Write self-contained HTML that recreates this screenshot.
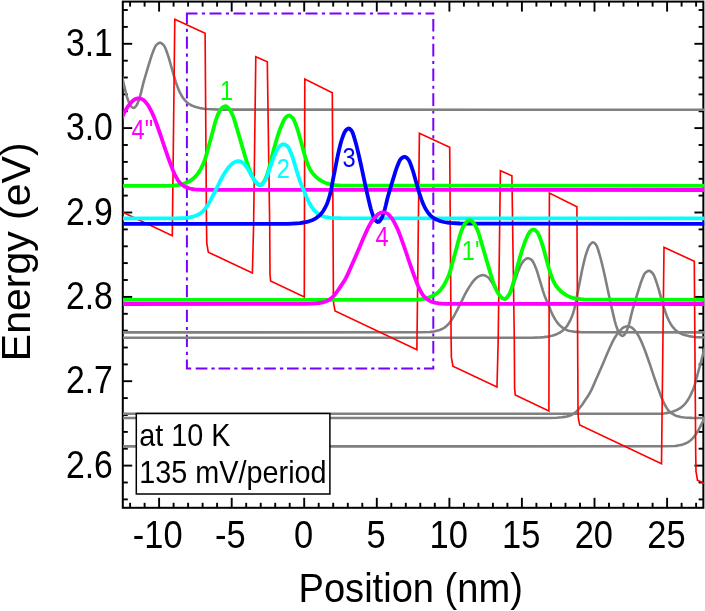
<!DOCTYPE html><html><head><meta charset="utf-8"><title>Band diagram</title><style>html,body{margin:0;padding:0;background:#fff}body{width:705px;height:611px;overflow:hidden}</style></head><body><svg width="705" height="611" viewBox="0 0 705 611" style="display:block;will-change:transform">
<rect width="705" height="611" fill="#fff"/>
<defs><clipPath id="c"><rect x="123.0" y="1.6" width="581.2500000000001" height="506.2"/></clipPath></defs>
<g stroke="#000" stroke-width="1.9" fill="none"><line x1="130.1" y1="1.6" x2="130.1" y2="6.6"/><line x1="130.1" y1="507.8" x2="130.1" y2="502.8"/><line x1="144.6" y1="1.6" x2="144.6" y2="6.6"/><line x1="144.6" y1="507.8" x2="144.6" y2="502.8"/><line x1="159.1" y1="1.6" x2="159.1" y2="11.6"/><line x1="159.1" y1="507.8" x2="159.1" y2="497.8"/><line x1="173.6" y1="1.6" x2="173.6" y2="6.6"/><line x1="173.6" y1="507.8" x2="173.6" y2="502.8"/><line x1="188.1" y1="1.6" x2="188.1" y2="6.6"/><line x1="188.1" y1="507.8" x2="188.1" y2="502.8"/><line x1="202.6" y1="1.6" x2="202.6" y2="6.6"/><line x1="202.6" y1="507.8" x2="202.6" y2="502.8"/><line x1="217.1" y1="1.6" x2="217.1" y2="6.6"/><line x1="217.1" y1="507.8" x2="217.1" y2="502.8"/><line x1="231.7" y1="1.6" x2="231.7" y2="11.6"/><line x1="231.7" y1="507.8" x2="231.7" y2="497.8"/><line x1="246.2" y1="1.6" x2="246.2" y2="6.6"/><line x1="246.2" y1="507.8" x2="246.2" y2="502.8"/><line x1="260.7" y1="1.6" x2="260.7" y2="6.6"/><line x1="260.7" y1="507.8" x2="260.7" y2="502.8"/><line x1="275.2" y1="1.6" x2="275.2" y2="6.6"/><line x1="275.2" y1="507.8" x2="275.2" y2="502.8"/><line x1="289.7" y1="1.6" x2="289.7" y2="6.6"/><line x1="289.7" y1="507.8" x2="289.7" y2="502.8"/><line x1="304.2" y1="1.6" x2="304.2" y2="11.6"/><line x1="304.2" y1="507.8" x2="304.2" y2="497.8"/><line x1="318.7" y1="1.6" x2="318.7" y2="6.6"/><line x1="318.7" y1="507.8" x2="318.7" y2="502.8"/><line x1="333.2" y1="1.6" x2="333.2" y2="6.6"/><line x1="333.2" y1="507.8" x2="333.2" y2="502.8"/><line x1="347.8" y1="1.6" x2="347.8" y2="6.6"/><line x1="347.8" y1="507.8" x2="347.8" y2="502.8"/><line x1="362.3" y1="1.6" x2="362.3" y2="6.6"/><line x1="362.3" y1="507.8" x2="362.3" y2="502.8"/><line x1="376.8" y1="1.6" x2="376.8" y2="11.6"/><line x1="376.8" y1="507.8" x2="376.8" y2="497.8"/><line x1="391.3" y1="1.6" x2="391.3" y2="6.6"/><line x1="391.3" y1="507.8" x2="391.3" y2="502.8"/><line x1="405.8" y1="1.6" x2="405.8" y2="6.6"/><line x1="405.8" y1="507.8" x2="405.8" y2="502.8"/><line x1="420.3" y1="1.6" x2="420.3" y2="6.6"/><line x1="420.3" y1="507.8" x2="420.3" y2="502.8"/><line x1="434.8" y1="1.6" x2="434.8" y2="6.6"/><line x1="434.8" y1="507.8" x2="434.8" y2="502.8"/><line x1="449.4" y1="1.6" x2="449.4" y2="11.6"/><line x1="449.4" y1="507.8" x2="449.4" y2="497.8"/><line x1="463.9" y1="1.6" x2="463.9" y2="6.6"/><line x1="463.9" y1="507.8" x2="463.9" y2="502.8"/><line x1="478.4" y1="1.6" x2="478.4" y2="6.6"/><line x1="478.4" y1="507.8" x2="478.4" y2="502.8"/><line x1="492.9" y1="1.6" x2="492.9" y2="6.6"/><line x1="492.9" y1="507.8" x2="492.9" y2="502.8"/><line x1="507.4" y1="1.6" x2="507.4" y2="6.6"/><line x1="507.4" y1="507.8" x2="507.4" y2="502.8"/><line x1="521.9" y1="1.6" x2="521.9" y2="11.6"/><line x1="521.9" y1="507.8" x2="521.9" y2="497.8"/><line x1="536.4" y1="1.6" x2="536.4" y2="6.6"/><line x1="536.4" y1="507.8" x2="536.4" y2="502.8"/><line x1="551.0" y1="1.6" x2="551.0" y2="6.6"/><line x1="551.0" y1="507.8" x2="551.0" y2="502.8"/><line x1="565.5" y1="1.6" x2="565.5" y2="6.6"/><line x1="565.5" y1="507.8" x2="565.5" y2="502.8"/><line x1="580.0" y1="1.6" x2="580.0" y2="6.6"/><line x1="580.0" y1="507.8" x2="580.0" y2="502.8"/><line x1="594.5" y1="1.6" x2="594.5" y2="11.6"/><line x1="594.5" y1="507.8" x2="594.5" y2="497.8"/><line x1="609.0" y1="1.6" x2="609.0" y2="6.6"/><line x1="609.0" y1="507.8" x2="609.0" y2="502.8"/><line x1="623.5" y1="1.6" x2="623.5" y2="6.6"/><line x1="623.5" y1="507.8" x2="623.5" y2="502.8"/><line x1="638.0" y1="1.6" x2="638.0" y2="6.6"/><line x1="638.0" y1="507.8" x2="638.0" y2="502.8"/><line x1="652.6" y1="1.6" x2="652.6" y2="6.6"/><line x1="652.6" y1="507.8" x2="652.6" y2="502.8"/><line x1="667.1" y1="1.6" x2="667.1" y2="11.6"/><line x1="667.1" y1="507.8" x2="667.1" y2="497.8"/><line x1="681.6" y1="1.6" x2="681.6" y2="6.6"/><line x1="681.6" y1="507.8" x2="681.6" y2="502.8"/><line x1="696.1" y1="1.6" x2="696.1" y2="6.6"/><line x1="696.1" y1="507.8" x2="696.1" y2="502.8"/><line x1="122.8" y1="499.4" x2="127.8" y2="499.4"/><line x1="703.4" y1="499.4" x2="698.6" y2="499.4"/><line x1="122.8" y1="482.5" x2="127.8" y2="482.5"/><line x1="703.4" y1="482.5" x2="698.6" y2="482.5"/><line x1="122.8" y1="465.6" x2="132.2" y2="465.6"/><line x1="703.4" y1="465.6" x2="694.4" y2="465.6"/><line x1="122.8" y1="448.7" x2="127.8" y2="448.7"/><line x1="703.4" y1="448.7" x2="698.6" y2="448.7"/><line x1="122.8" y1="431.9" x2="127.8" y2="431.9"/><line x1="703.4" y1="431.9" x2="698.6" y2="431.9"/><line x1="122.8" y1="415.0" x2="127.8" y2="415.0"/><line x1="703.4" y1="415.0" x2="698.6" y2="415.0"/><line x1="122.8" y1="398.1" x2="127.8" y2="398.1"/><line x1="703.4" y1="398.1" x2="698.6" y2="398.1"/><line x1="122.8" y1="381.2" x2="132.2" y2="381.2"/><line x1="703.4" y1="381.2" x2="694.4" y2="381.2"/><line x1="122.8" y1="364.4" x2="127.8" y2="364.4"/><line x1="703.4" y1="364.4" x2="698.6" y2="364.4"/><line x1="122.8" y1="347.5" x2="127.8" y2="347.5"/><line x1="703.4" y1="347.5" x2="698.6" y2="347.5"/><line x1="122.8" y1="330.6" x2="127.8" y2="330.6"/><line x1="703.4" y1="330.6" x2="698.6" y2="330.6"/><line x1="122.8" y1="313.8" x2="127.8" y2="313.8"/><line x1="703.4" y1="313.8" x2="698.6" y2="313.8"/><line x1="122.8" y1="296.9" x2="132.2" y2="296.9"/><line x1="703.4" y1="296.9" x2="694.4" y2="296.9"/><line x1="122.8" y1="280.0" x2="127.8" y2="280.0"/><line x1="703.4" y1="280.0" x2="698.6" y2="280.0"/><line x1="122.8" y1="263.1" x2="127.8" y2="263.1"/><line x1="703.4" y1="263.1" x2="698.6" y2="263.1"/><line x1="122.8" y1="246.3" x2="127.8" y2="246.3"/><line x1="703.4" y1="246.3" x2="698.6" y2="246.3"/><line x1="122.8" y1="229.4" x2="127.8" y2="229.4"/><line x1="703.4" y1="229.4" x2="698.6" y2="229.4"/><line x1="122.8" y1="212.5" x2="132.2" y2="212.5"/><line x1="703.4" y1="212.5" x2="694.4" y2="212.5"/><line x1="122.8" y1="195.6" x2="127.8" y2="195.6"/><line x1="703.4" y1="195.6" x2="698.6" y2="195.6"/><line x1="122.8" y1="178.8" x2="127.8" y2="178.8"/><line x1="703.4" y1="178.8" x2="698.6" y2="178.8"/><line x1="122.8" y1="161.9" x2="127.8" y2="161.9"/><line x1="703.4" y1="161.9" x2="698.6" y2="161.9"/><line x1="122.8" y1="145.0" x2="127.8" y2="145.0"/><line x1="703.4" y1="145.0" x2="698.6" y2="145.0"/><line x1="122.8" y1="128.1" x2="132.2" y2="128.1"/><line x1="703.4" y1="128.1" x2="694.4" y2="128.1"/><line x1="122.8" y1="111.3" x2="127.8" y2="111.3"/><line x1="703.4" y1="111.3" x2="698.6" y2="111.3"/><line x1="122.8" y1="94.4" x2="127.8" y2="94.4"/><line x1="703.4" y1="94.4" x2="698.6" y2="94.4"/><line x1="122.8" y1="77.5" x2="127.8" y2="77.5"/><line x1="703.4" y1="77.5" x2="698.6" y2="77.5"/><line x1="122.8" y1="60.7" x2="127.8" y2="60.7"/><line x1="703.4" y1="60.7" x2="698.6" y2="60.7"/><line x1="122.8" y1="43.8" x2="132.2" y2="43.8"/><line x1="703.4" y1="43.8" x2="694.4" y2="43.8"/><line x1="122.8" y1="26.9" x2="127.8" y2="26.9"/><line x1="703.4" y1="26.9" x2="698.6" y2="26.9"/><line x1="122.8" y1="10.0" x2="127.8" y2="10.0"/><line x1="703.4" y1="10.0" x2="698.6" y2="10.0"/></g>
<rect x="122.8" y="1.6" width="580.5500000000001" height="506.2" fill="none" stroke="#000" stroke-width="2"/>
<g clip-path="url(#c)" fill="none" stroke-linejoin="round" stroke-linecap="butt">
<path d="M185.9,13.4H197.5M201.9,13.4H205.1M209.5,13.4H221.5M225.9,13.4H229.1M233.5,13.4H245.5M249.9,13.4H253.1M257.5,13.4H269.5M273.9,13.4H277.1M281.5,13.4H293.5M297.9,13.4H301.1M305.5,13.4H317.5M321.9,13.4H325.1M329.5,13.4H341.5M345.9,13.4H349.1M353.5,13.4H365.5M369.9,13.4H373.1M377.5,13.4H389.5M393.9,13.4H397.1M401.5,13.4H413.5M417.9,13.4H421.1M425.5,13.4H434.3M195.7,368.4H207.4M211.4,368.4H214.7M218.5,368.4H230.2M234.2,368.4H237.5M241.4,368.4H253.1M257.1,368.4H260.4M264.2,368.4H275.9M279.9,368.4H283.2M287.0,368.4H298.7M302.7,368.4H306.0M309.8,368.4H321.5M325.5,368.4H328.8M332.7,368.4H344.4M348.4,368.4H351.7M355.5,368.4H367.2M371.2,368.4H374.5M378.3,368.4H390.0M394.0,368.4H397.3M401.2,368.4H412.9M416.9,368.4H420.2M424.0,368.4H434.3M185.9,368.4H191.2M186.9,12.4V23.9M186.9,28.7V31.9M186.9,36.5V48.8M186.9,53.5V56.7M186.9,61.3V73.6M186.9,78.4V81.6M186.9,86.2V98.5M186.9,103.2V106.4M186.9,111.0V123.3M186.9,128.1V131.2M186.9,135.9V148.2M186.9,152.9V156.1M186.9,160.7V173.0M186.9,177.8V180.9M186.9,185.6V197.9M186.9,202.6V205.8M186.9,210.4V222.7M186.9,227.5V230.7M186.9,235.2V247.6M186.9,252.3V255.5M186.9,260.1V272.4M186.9,277.2V280.4M186.9,284.9V297.2M186.9,302.0V305.2M186.9,309.8V322.1M186.9,326.9V330.1M186.9,334.7V347.0M186.9,351.7V354.9M186.9,359.5V369.4M433.3,12.4V14.5M433.3,19.0V31.6M433.3,36.2V39.3M433.3,43.8V56.4M433.3,61.0V64.1M433.3,68.5V81.1M433.3,85.7V88.8M433.3,93.3V105.9M433.3,110.5V113.6M433.3,118.1V130.7M433.3,135.3V138.4M433.3,142.8V155.4M433.3,160.0V163.1M433.3,167.6V180.2M433.3,184.8V187.9M433.3,192.4V205.0M433.3,209.6V212.7M433.3,217.2V229.8M433.3,234.4V237.5M433.3,241.9V254.5M433.3,259.1V262.2M433.3,266.7V279.3M433.3,283.9V287.0M433.3,291.5V304.1M433.3,308.7V311.8M433.3,316.2V328.8M433.3,333.4V336.5M433.3,341.0V353.6M433.3,358.2V361.3M433.3,365.8V369.4" stroke="#7800ff" stroke-width="2"/>
<path d="M120.8,70.8 L121.8,75.4 L122.8,79.9 L123.8,84.2 L124.8,88.4 L125.8,92.6 L126.8,96.3 L127.8,99.3 L128.8,102.1 L129.8,104.5 L130.8,106.1 L131.8,107.0 L132.8,107.8 L133.8,108.0 L134.8,107.4 L135.8,106.3 L136.8,104.9 L137.8,102.9 L138.8,100.2 L139.8,97.1 L140.8,93.7 L141.8,89.4 L142.8,85.1 L143.8,81.4 L144.8,78.0 L145.8,74.7 L147.8,67.9 L148.8,64.6 L150.8,58.2 L151.8,55.1 L152.8,52.4 L153.8,49.8 L154.8,47.5 L155.8,45.6 L156.8,44.5 L157.8,43.7 L158.8,43.1 L159.8,42.8 L160.8,42.9 L161.8,43.5 L162.8,44.4 L163.8,45.4 L164.8,46.9 L165.8,49.2 L166.8,52.0 L167.8,54.9 L168.8,57.9 L169.8,61.4 L170.8,65.0 L171.8,68.5 L172.8,72.0 L173.8,75.5 L174.8,78.9 L175.8,82.1 L176.8,84.9 L177.8,87.6 L178.8,90.1 L179.8,92.3 L180.8,94.2 L181.8,96.0 L182.8,97.5 L183.8,98.9 L184.8,100.1 L185.8,101.2 L186.8,102.2 L187.8,103.1 L188.8,103.8 L189.8,104.4 L190.8,105.0 L191.8,105.5 L192.8,105.9 L193.8,106.3 L195.8,107.0 L197.8,107.6 L199.8,108.1 L203.8,108.7 L206.8,109.0 L218.8,109.6 L705.8,109.8" stroke="#808080" stroke-width="2.6"/>
<path d="M120.8,332.4 L420.8,332.3 L429.8,332.0 L430.8,331.9 L432.8,331.7 L434.8,331.3 L437.8,330.5 L438.8,330.2 L439.8,329.9 L440.8,329.5 L441.8,329.0 L442.8,328.6 L443.8,328.0 L444.8,327.4 L445.8,326.6 L446.8,325.7 L447.8,324.8 L448.8,323.7 L449.8,322.5 L450.8,321.1 L451.8,319.6 L452.8,318.1 L453.8,316.4 L454.8,314.5 L458.8,306.8 L461.8,300.9 L463.8,296.7 L464.8,294.7 L465.8,292.8 L466.8,291.0 L467.8,289.3 L468.8,287.6 L469.8,286.1 L471.8,283.1 L472.8,281.8 L473.8,280.5 L474.8,279.5 L475.8,278.5 L476.8,277.6 L477.8,276.9 L478.8,276.3 L479.8,275.9 L480.8,275.5 L481.8,275.2 L482.8,275.1 L483.8,275.2 L484.8,275.5 L485.8,275.9 L486.8,276.5 L487.8,277.1 L488.8,278.0 L489.8,279.3 L491.8,282.3 L492.8,283.9 L493.8,285.6 L494.8,287.4 L495.8,289.1 L496.8,290.7 L497.8,292.4 L498.8,294.0 L499.8,295.5 L500.8,296.5 L501.8,297.5 L502.8,298.3 L503.8,298.9 L504.8,299.2 L505.8,298.9 L506.8,298.1 L507.8,296.9 L508.8,295.5 L509.8,294.0 L510.8,292.0 L511.8,289.4 L513.8,283.7 L514.8,280.9 L516.8,275.0 L517.8,272.1 L518.8,269.7 L519.8,267.3 L520.8,265.1 L521.8,263.3 L522.8,261.9 L523.8,260.6 L524.8,259.7 L525.8,259.0 L526.8,258.5 L527.8,258.2 L528.8,258.3 L529.8,258.8 L530.8,259.4 L531.8,260.1 L532.8,261.4 L533.8,263.3 L534.8,265.5 L535.8,267.9 L536.8,270.5 L537.8,273.6 L539.8,280.3 L540.8,283.5 L542.8,290.3 L543.8,293.4 L544.8,296.2 L545.8,298.7 L547.8,303.4 L548.8,305.8 L550.8,310.8 L551.8,313.0 L552.8,315.1 L553.8,317.0 L554.8,318.8 L555.8,320.4 L556.8,321.9 L557.8,323.2 L558.8,324.3 L559.8,325.4 L560.8,326.3 L561.8,327.1 L563.8,328.5 L564.8,329.1 L565.8,329.6 L566.8,330.1 L567.8,330.4 L569.8,330.9 L571.8,331.3 L573.8,331.6 L580.8,332.1 L705.8,332.4" stroke="#808080" stroke-width="2.6"/>
<path d="M120.8,337.8 L531.8,337.8 L540.8,337.4 L543.8,337.1 L547.8,336.6 L549.8,336.2 L551.8,335.8 L553.8,335.2 L555.8,334.5 L557.8,333.6 L558.8,333.1 L559.8,332.6 L560.8,331.9 L561.8,331.2 L562.8,330.4 L563.8,329.5 L564.8,328.5 L565.8,327.5 L566.8,326.2 L567.8,324.7 L568.8,323.0 L569.8,321.2 L570.8,319.1 L571.8,316.8 L572.8,314.1 L573.8,310.9 L574.8,307.2 L575.8,302.5 L576.8,297.0 L577.8,291.9 L579.8,281.8 L580.8,276.7 L581.8,271.6 L582.8,267.0 L583.8,262.6 L584.8,258.5 L585.8,254.9 L586.8,251.9 L587.8,249.1 L588.8,246.7 L589.8,244.9 L590.8,243.8 L591.8,242.9 L592.8,242.4 L593.8,242.6 L594.8,243.3 L595.8,244.4 L596.8,246.0 L597.8,248.7 L598.8,252.0 L599.8,255.5 L600.8,259.0 L601.8,263.0 L602.8,267.2 L603.8,271.5 L604.8,275.9 L605.8,280.5 L607.8,290.0 L610.8,303.9 L611.8,308.4 L613.8,316.9 L614.8,321.0 L615.8,324.6 L616.8,327.6 L617.8,330.4 L618.8,332.7 L619.8,334.2 L620.8,335.1 L621.8,335.8 L622.8,336.0 L623.8,335.3 L624.8,334.1 L625.8,332.7 L626.8,330.6 L627.8,327.9 L628.8,324.8 L629.8,321.3 L630.8,316.9 L631.8,312.7 L632.8,309.0 L633.8,305.6 L634.8,302.3 L636.8,295.6 L637.8,292.3 L639.8,285.8 L640.8,282.8 L641.8,280.1 L642.8,277.6 L643.8,275.2 L644.8,273.4 L645.8,272.4 L646.8,271.7 L647.8,271.1 L648.8,270.8 L649.8,271.0 L650.8,271.5 L651.8,272.5 L652.8,273.5 L653.8,275.1 L654.8,277.5 L655.8,280.3 L656.8,283.1 L657.8,286.3 L658.8,289.7 L659.8,293.4 L662.8,303.9 L663.8,307.3 L664.8,310.3 L665.8,313.2 L666.8,315.9 L667.8,318.3 L668.8,320.5 L669.8,322.4 L670.8,324.1 L671.8,325.7 L672.8,327.0 L673.8,328.2 L674.8,329.3 L675.8,330.3 L676.8,331.1 L677.8,331.8 L678.8,332.4 L679.8,333.0 L680.8,333.5 L681.8,334.0 L682.8,334.4 L684.8,335.0 L686.8,335.6 L688.8,336.1 L692.8,336.7 L695.8,337.1 L705.8,337.6" stroke="#808080" stroke-width="2.6"/>
<path d="M120.8,418.0 L548.8,418.0 L556.8,417.7 L561.8,417.3 L564.8,416.9 L565.8,416.7 L566.8,416.5 L568.8,415.9 L570.8,415.2 L571.8,414.8 L572.8,414.2 L573.8,413.6 L574.8,412.9 L575.8,412.1 L576.8,411.2 L577.8,410.2 L578.8,409.0 L580.8,406.5 L581.8,405.2 L582.8,403.8 L587.8,396.3 L588.8,394.7 L589.8,393.0 L590.8,391.1 L591.8,389.1 L592.8,386.9 L595.8,380.1 L598.8,373.3 L603.8,361.7 L606.8,354.6 L607.8,352.2 L608.8,350.0 L610.8,345.5 L611.8,343.4 L612.8,341.3 L613.8,339.4 L614.8,337.7 L615.8,336.1 L616.8,334.6 L617.8,333.2 L618.8,331.9 L619.8,330.8 L620.8,329.8 L621.8,328.8 L622.8,327.9 L623.8,327.3 L624.8,326.9 L625.8,326.6 L626.8,326.4 L627.8,326.3 L628.8,326.4 L629.8,326.7 L630.8,327.2 L631.8,327.6 L632.8,328.4 L633.8,329.4 L634.8,330.5 L635.8,331.8 L636.8,333.1 L637.8,334.7 L638.8,336.4 L639.8,338.4 L640.8,340.4 L641.8,342.6 L642.8,344.9 L643.8,347.4 L644.8,350.1 L645.8,352.8 L648.8,361.3 L649.8,364.2 L652.8,373.2 L653.8,376.1 L655.8,381.9 L657.8,387.6 L658.8,390.3 L660.8,395.7 L661.8,398.2 L662.8,400.5 L663.8,402.7 L664.8,404.7 L665.8,406.5 L666.8,408.2 L667.8,409.6 L668.8,410.8 L669.8,411.8 L670.8,412.7 L671.8,413.4 L672.8,414.0 L673.8,414.6 L674.8,415.2 L675.8,415.6 L676.8,416.0 L678.8,416.5 L680.8,417.0 L682.8,417.3 L684.8,417.5 L691.8,417.9 L705.8,418.0" stroke="#808080" stroke-width="2.6"/>
<path d="M120.8,413.8 L656.8,413.8 L661.8,413.7 L663.8,413.5 L667.8,412.9 L668.8,412.8 L669.8,412.5 L671.8,411.9 L673.8,411.3 L675.8,410.4 L676.8,410.0 L677.8,409.5 L678.8,408.9 L679.8,408.3 L680.8,407.7 L681.8,406.9 L682.8,406.1 L683.8,405.1 L684.8,404.0 L685.8,402.8 L686.8,401.5 L687.8,400.0 L688.8,398.4 L689.8,396.6 L690.8,394.6 L691.8,392.4 L692.8,390.3 L693.8,387.7 L694.8,384.6 L695.8,381.0 L696.8,377.2 L697.8,373.5 L700.8,362.6 L701.8,358.9 L702.8,355.0 L703.8,351.3 L704.8,348.0 L705.8,345.1" stroke="#808080" stroke-width="2.6"/>
<path d="M120.8,446.4 L664.8,446.3 L674.8,446.0 L675.8,445.9 L677.8,445.6 L680.8,444.9 L682.8,444.4 L683.8,444.1 L684.8,443.7 L685.8,443.3 L686.8,442.8 L687.8,442.3 L688.8,441.7 L689.8,441.0 L690.8,440.1 L691.8,439.2 L692.8,438.2 L693.8,437.0 L694.8,435.7 L695.8,434.3 L696.8,432.8 L697.8,431.2 L698.8,429.4 L702.8,421.7 L705.8,415.8" stroke="#808080" stroke-width="2.6"/>
<path d="M-72.3,121.8 L-69.8,-94.7 L-39.5,-80.7 L-38.1,111.0 L-37.8,129.4 L-36.3,138.2 L7.8,158.9 L9.0,111.0 L11.2,-57.2 L22.7,-52.3 L25.1,111.0 L25.4,160.0 L26.0,167.0 L59.7,183.0 L60.2,-34.9 L87.7,-21.3 L88.8,182.0 L89.1,190.0 L90.5,197.0 L172.3,235.8 L174.8,19.3 L205.1,33.3 L206.5,225.0 L206.8,243.4 L208.3,252.2 L252.4,272.9 L253.6,225.0 L255.8,56.8 L267.3,61.7 L269.7,225.0 L270.0,274.0 L270.6,281.0 L304.3,297.0 L304.8,79.1 L332.3,92.7 L333.4,296.0 L333.7,304.0 L335.1,311.0 L416.9,349.8 L419.4,133.3 L449.7,147.3 L451.1,339.0 L451.4,357.4 L452.9,366.2 L497.0,386.9 L498.2,339.0 L500.4,170.8 L511.9,175.7 L514.3,339.0 L514.6,388.0 L515.2,395.0 L548.9,411.0 L549.4,193.1 L576.9,206.7 L578.0,410.0 L578.3,418.0 L579.7,425.0 L661.5,463.8 L664.0,247.3 L694.3,261.3 L695.7,453.0 L696.0,471.4 L697.5,480.2 L741.6,500.9 L742.8,453.0 L745.0,284.8 L756.5,289.7 L758.9,453.0 L759.2,502.0 L759.8,509.0 L793.5,525.0 L794.0,307.1 L821.5,320.7 L822.6,524.0 L822.9,532.0 L824.3,539.0" stroke="#ff0000" stroke-width="1.65" stroke-linejoin="miter"/>
<path d="M120.8,185.8 L167.8,185.8 L172.8,185.7 L174.8,185.5 L177.8,185.1 L179.8,184.8 L180.8,184.5 L182.8,184.0 L184.8,183.3 L186.8,182.5 L187.8,182.0 L188.8,181.5 L189.8,181.0 L190.8,180.4 L191.8,179.7 L192.8,179.0 L193.8,178.1 L194.8,177.2 L195.8,176.1 L196.8,174.9 L197.8,173.6 L198.8,172.2 L199.8,170.6 L200.8,168.8 L201.8,166.8 L202.8,164.7 L203.8,162.5 L204.8,160.0 L205.8,156.9 L206.8,153.3 L207.8,149.5 L208.8,145.8 L211.8,134.9 L212.8,131.2 L213.8,127.4 L214.8,123.6 L215.8,120.3 L216.8,117.4 L217.8,114.8 L218.8,112.6 L219.8,110.8 L220.8,109.2 L221.8,108.0 L222.8,107.3 L223.8,106.7 L224.8,106.3 L225.8,106.2 L226.8,106.7 L227.8,107.5 L228.8,108.5 L229.8,109.6 L230.8,111.3 L231.8,113.3 L232.8,115.6 L233.8,118.1 L234.8,121.2 L235.8,124.6 L236.8,128.1 L241.8,145.1 L243.8,152.0 L244.8,155.4 L246.8,161.9 L247.8,165.1 L248.8,168.1 L249.8,170.8 L250.8,173.3 L251.8,175.7 L252.8,177.7 L253.8,179.5 L254.8,181.0 L255.8,182.4 L256.8,183.5 L257.8,184.2 L258.8,184.7 L259.8,185.0 L260.8,184.9 L261.8,184.3 L262.8,183.2 L263.8,181.7 L264.8,180.2 L265.8,178.2 L266.8,175.5 L267.8,172.3 L268.8,169.0 L269.8,165.5 L270.8,161.4 L271.8,157.2 L272.8,153.2 L273.8,149.4 L274.8,145.8 L275.8,142.2 L276.8,138.9 L277.8,135.7 L278.8,132.7 L279.8,129.8 L280.8,127.2 L281.8,124.8 L282.8,122.4 L283.8,120.3 L284.8,118.6 L285.8,117.5 L286.8,116.5 L287.8,115.8 L288.8,115.5 L289.8,115.7 L290.8,116.3 L291.8,117.2 L292.8,118.2 L293.8,119.8 L294.8,122.0 L295.8,124.6 L296.8,127.3 L297.8,130.3 L298.8,133.7 L300.8,140.9 L301.8,144.6 L302.8,148.5 L303.8,152.3 L304.8,155.7 L305.8,158.8 L306.8,161.7 L307.8,164.5 L308.8,166.9 L309.8,168.9 L310.8,170.6 L311.8,172.0 L312.8,173.4 L313.8,174.6 L314.8,175.7 L315.8,176.7 L316.8,177.6 L317.8,178.4 L318.8,179.2 L319.8,179.9 L320.8,180.5 L321.8,181.1 L323.8,182.1 L324.8,182.6 L325.8,183.0 L326.8,183.3 L328.8,183.9 L330.8,184.4 L332.8,184.8 L336.8,185.3 L339.8,185.5 L705.8,185.8" stroke="#00ff00" stroke-width="3.8"/>
<path d="M120.8,120.0 L122.8,115.6 L123.8,113.5 L124.8,111.6 L125.8,109.8 L126.8,108.2 L127.8,106.7 L128.8,105.3 L129.8,104.0 L130.8,102.9 L131.8,101.9 L132.8,100.9 L133.8,100.0 L134.8,99.3 L135.8,98.9 L136.8,98.6 L137.8,98.4 L138.8,98.3 L139.8,98.4 L140.8,98.7 L141.8,99.1 L142.8,99.6 L143.8,100.3 L144.8,101.2 L145.8,102.4 L146.8,103.6 L147.8,104.9 L148.8,106.5 L149.8,108.3 L150.8,110.2 L151.8,112.2 L152.8,114.4 L153.8,116.6 L154.8,119.1 L155.8,121.8 L156.8,124.5 L159.8,133.0 L160.8,135.9 L164.8,147.8 L166.8,153.6 L168.8,159.3 L169.8,162.0 L171.8,167.4 L172.8,170.0 L173.8,172.3 L174.8,174.5 L175.8,176.5 L176.8,178.3 L177.8,180.0 L178.8,181.5 L179.8,182.7 L180.8,183.7 L181.8,184.6 L182.8,185.3 L183.8,186.0 L184.8,186.6 L185.8,187.1 L186.8,187.6 L187.8,187.9 L189.8,188.5 L191.8,189.0 L193.8,189.3 L194.8,189.4 L201.8,189.8 L705.8,190.0" stroke="#ff00ff" stroke-width="3.8"/>
<path d="M120.8,218.4 L175.8,218.3 L185.8,218.0 L186.8,217.9 L188.8,217.6 L191.8,216.9 L193.8,216.4 L194.8,216.1 L195.8,215.7 L196.8,215.3 L197.8,214.8 L198.8,214.3 L199.8,213.7 L200.8,213.0 L201.8,212.2 L202.8,211.3 L203.8,210.3 L204.8,209.2 L205.8,207.9 L206.8,206.5 L207.8,205.0 L208.8,203.4 L209.8,201.6 L210.8,199.7 L214.8,192.0 L216.8,188.0 L217.8,186.0 L219.8,181.8 L220.8,179.8 L221.8,178.0 L222.8,176.2 L223.8,174.5 L224.8,172.9 L225.8,171.4 L226.8,169.9 L227.8,168.5 L228.8,167.2 L229.8,166.0 L230.8,165.0 L231.8,164.1 L232.8,163.3 L233.8,162.6 L234.8,162.1 L235.8,161.7 L236.8,161.4 L237.8,161.2 L238.8,161.1 L239.8,161.3 L240.8,161.6 L241.8,162.2 L242.8,162.7 L243.8,163.5 L244.8,164.6 L245.8,166.0 L247.8,169.0 L248.8,170.6 L250.8,174.1 L253.8,179.1 L254.8,180.7 L255.8,182.0 L256.8,183.0 L257.8,183.9 L258.8,184.6 L259.8,185.1 L260.8,185.1 L261.8,184.6 L262.8,183.6 L263.8,182.3 L264.8,180.8 L265.8,179.2 L266.8,176.9 L267.8,174.1 L268.8,171.2 L269.8,168.4 L270.8,165.6 L271.8,162.6 L272.8,159.7 L273.8,157.0 L274.8,154.6 L275.8,152.3 L276.8,150.2 L277.8,148.6 L278.8,147.3 L279.8,146.2 L280.8,145.3 L281.8,144.7 L282.8,144.3 L283.8,144.2 L284.8,144.5 L285.8,145.0 L286.8,145.7 L287.8,146.6 L288.8,148.2 L289.8,150.2 L290.8,152.6 L291.8,155.0 L292.8,157.9 L293.8,161.1 L294.8,164.5 L295.8,167.7 L296.8,171.1 L297.8,174.4 L298.8,177.7 L299.8,180.7 L300.8,183.4 L301.8,185.8 L303.8,190.5 L305.8,195.4 L306.8,197.8 L307.8,200.0 L308.8,202.0 L309.8,203.8 L310.8,205.6 L311.8,207.1 L312.8,208.5 L313.8,209.7 L314.8,210.8 L315.8,211.8 L316.8,212.7 L317.8,213.4 L318.8,214.1 L319.8,214.8 L320.8,215.3 L321.8,215.8 L322.8,216.2 L324.8,216.8 L326.8,217.2 L328.8,217.6 L330.8,217.8 L340.8,218.2 L705.8,218.4" stroke="#00ffff" stroke-width="3.8"/>
<path d="M120.8,223.8 L287.8,223.8 L296.8,223.3 L299.8,223.1 L303.8,222.5 L305.8,222.1 L307.8,221.7 L309.8,221.0 L311.8,220.3 L312.8,219.9 L313.8,219.4 L314.8,218.9 L315.8,218.3 L316.8,217.6 L317.8,216.8 L318.8,216.0 L319.8,215.1 L320.8,214.1 L321.8,212.9 L322.8,211.5 L323.8,210.0 L324.8,208.2 L325.8,206.3 L326.8,204.2 L327.8,201.7 L328.8,198.7 L329.8,195.3 L330.8,191.3 L331.8,186.1 L332.8,180.7 L334.8,170.6 L335.8,165.5 L336.8,160.3 L337.8,155.5 L338.8,151.0 L339.8,146.7 L340.8,142.8 L341.8,139.5 L342.8,136.6 L343.8,134.0 L344.8,131.8 L345.8,130.4 L346.8,129.4 L347.8,128.7 L348.8,128.4 L349.8,128.8 L350.8,129.8 L351.8,131.0 L352.8,133.1 L353.8,136.1 L355.8,143.0 L356.8,146.8 L357.8,150.9 L358.8,155.1 L359.8,159.5 L360.8,164.0 L361.8,168.6 L362.8,173.4 L363.8,178.1 L365.8,187.3 L366.8,191.9 L367.8,196.3 L369.8,204.7 L370.8,208.7 L371.8,212.0 L372.8,214.9 L373.8,217.5 L374.8,219.5 L375.8,220.6 L376.8,221.5 L377.8,222.0 L378.8,221.8 L379.8,220.8 L380.8,219.5 L381.8,217.9 L382.8,215.5 L383.8,212.5 L384.8,209.3 L385.8,205.4 L386.8,201.0 L387.8,197.0 L388.8,193.5 L390.8,186.8 L392.8,180.1 L394.8,173.6 L395.8,170.4 L396.8,167.5 L397.8,165.0 L398.8,162.5 L399.8,160.3 L400.8,158.9 L401.8,158.1 L402.8,157.4 L403.8,156.9 L404.8,156.8 L405.8,157.2 L406.8,157.9 L407.8,158.9 L408.8,160.1 L409.8,162.1 L410.8,164.7 L411.8,167.6 L412.8,170.5 L413.8,173.8 L415.8,181.0 L416.8,184.4 L417.8,187.9 L418.8,191.4 L419.8,194.7 L420.8,197.6 L421.8,200.4 L422.8,203.0 L423.8,205.3 L424.8,207.4 L425.8,209.2 L426.8,210.8 L427.8,212.3 L428.8,213.6 L429.8,214.7 L430.8,215.8 L431.8,216.7 L432.8,217.5 L433.8,218.1 L434.8,218.7 L435.8,219.2 L436.8,219.7 L437.8,220.1 L439.8,220.9 L441.8,221.5 L443.8,222.0 L446.8,222.5 L449.8,222.9 L459.8,223.5 L705.8,223.8" stroke="#0000ff" stroke-width="3.8"/>
<path d="M120.8,299.8 L412.8,299.8 L416.8,299.7 L418.8,299.6 L421.8,299.2 L423.8,298.9 L424.8,298.7 L427.8,297.8 L429.8,297.1 L431.8,296.2 L432.8,295.8 L433.8,295.3 L434.8,294.7 L435.8,294.0 L436.8,293.3 L437.8,292.5 L438.8,291.6 L439.8,290.6 L440.8,289.4 L441.8,288.2 L442.8,286.8 L443.8,285.3 L444.8,283.6 L445.8,281.7 L447.8,277.5 L448.8,275.2 L449.8,272.4 L450.8,269.0 L451.8,265.3 L452.8,261.5 L456.8,246.9 L457.8,243.1 L458.8,239.3 L459.8,235.7 L460.8,232.7 L461.8,229.9 L462.8,227.5 L463.8,225.6 L464.8,223.9 L465.8,222.5 L466.8,221.6 L467.8,220.9 L468.8,220.4 L469.8,220.2 L470.8,220.4 L471.8,221.1 L472.8,222.0 L473.8,223.1 L474.8,224.5 L475.8,226.4 L476.8,228.6 L477.8,231.0 L478.8,233.7 L479.8,237.0 L480.8,240.6 L481.8,244.0 L483.8,250.8 L486.8,261.0 L488.8,267.9 L489.8,271.2 L491.8,277.7 L492.8,280.8 L493.8,283.6 L494.8,286.2 L495.8,288.6 L496.8,290.8 L497.8,292.7 L498.8,294.3 L499.8,295.8 L500.8,297.0 L501.8,297.9 L502.8,298.5 L503.8,298.8 L504.8,299.0 L505.8,298.6 L506.8,297.7 L507.8,296.4 L508.8,294.9 L509.8,293.2 L510.8,290.8 L511.8,287.8 L512.8,284.5 L513.8,281.1 L514.8,277.3 L516.8,268.9 L517.8,265.1 L518.8,261.4 L519.8,257.8 L520.8,254.4 L521.8,251.1 L522.8,248.0 L523.8,245.1 L524.8,242.3 L525.8,239.8 L526.8,237.5 L527.8,235.2 L528.8,233.3 L529.8,231.9 L530.8,230.9 L531.8,230.1 L532.8,229.6 L533.8,229.6 L534.8,230.0 L535.8,230.8 L536.8,231.7 L537.8,233.0 L538.8,235.0 L539.8,237.4 L540.8,240.1 L541.8,242.9 L542.8,246.1 L543.8,249.7 L545.8,256.9 L547.8,264.6 L548.8,268.2 L549.8,271.4 L550.8,274.4 L551.8,277.3 L552.8,279.8 L553.8,282.0 L554.8,283.8 L555.8,285.4 L556.8,286.8 L557.8,288.0 L558.8,289.2 L559.8,290.2 L560.8,291.2 L561.8,292.0 L562.8,292.8 L563.8,293.6 L564.8,294.2 L565.8,294.8 L567.8,295.9 L568.8,296.4 L569.8,296.8 L570.8,297.2 L572.8,297.8 L574.8,298.3 L576.8,298.7 L580.8,299.2 L583.8,299.5 L705.8,299.8" stroke="#00ff00" stroke-width="3.8"/>
<path d="M120.8,304.0 L304.8,303.9 L311.8,303.7 L315.8,303.4 L319.8,303.0 L320.8,302.8 L321.8,302.6 L322.8,302.4 L324.8,301.8 L326.8,301.0 L327.8,300.5 L328.8,300.0 L329.8,299.3 L330.8,298.5 L331.8,297.7 L332.8,296.8 L333.8,295.7 L334.8,294.5 L336.8,291.9 L337.8,290.5 L338.8,289.1 L342.8,283.1 L343.8,281.6 L344.8,280.0 L345.8,278.2 L346.8,276.2 L347.8,274.1 L348.8,271.9 L351.8,265.0 L353.8,260.6 L358.8,249.0 L359.8,246.7 L362.8,239.5 L363.8,237.2 L366.8,230.6 L367.8,228.4 L368.8,226.4 L369.8,224.6 L370.8,222.9 L371.8,221.4 L372.8,219.9 L373.8,218.6 L374.8,217.4 L375.8,216.3 L376.8,215.3 L377.8,214.4 L378.8,213.6 L379.8,213.1 L380.8,212.7 L381.8,212.5 L382.8,212.3 L383.8,212.3 L384.8,212.6 L385.8,212.9 L386.8,213.4 L387.8,213.9 L388.8,214.8 L389.8,215.9 L390.8,217.1 L391.8,218.3 L392.8,219.8 L393.8,221.4 L394.8,223.3 L395.8,225.3 L396.8,227.4 L397.8,229.6 L398.8,232.0 L399.8,234.6 L400.8,237.3 L403.8,245.7 L404.8,248.6 L405.8,251.5 L408.8,260.5 L409.8,263.4 L411.8,269.2 L412.8,272.0 L413.8,274.8 L414.8,277.5 L415.8,280.2 L416.8,282.8 L417.8,285.3 L418.8,287.5 L419.8,289.6 L420.8,291.5 L421.8,293.3 L422.8,294.9 L423.8,296.2 L424.8,297.2 L425.8,298.2 L426.8,299.0 L427.8,299.7 L428.8,300.3 L429.8,300.9 L430.8,301.4 L431.8,301.8 L433.8,302.4 L435.8,302.9 L437.8,303.2 L438.8,303.4 L444.8,303.8 L705.8,304.0" stroke="#ff00ff" stroke-width="3.8"/>
</g>
<rect x="136.3" y="413.5" width="193.6" height="80.5" fill="#fff" stroke="#000" stroke-width="1.5"/>
<g style="font-family:'Liberation Sans',sans-serif" fill="#000">
<text transform="translate(112.9,56.0) scale(1,1.135)" font-size="33.8" text-anchor="end">3.1</text>
<text transform="translate(112.9,140.3) scale(1,1.135)" font-size="33.8" text-anchor="end">3.0</text>
<text transform="translate(112.9,224.7) scale(1,1.135)" font-size="33.8" text-anchor="end">2.9</text>
<text transform="translate(112.9,309.1) scale(1,1.135)" font-size="33.8" text-anchor="end">2.8</text>
<text transform="translate(112.9,393.4) scale(1,1.135)" font-size="33.8" text-anchor="end">2.7</text>
<text transform="translate(112.9,477.8) scale(1,1.135)" font-size="33.8" text-anchor="end">2.6</text>
<text transform="translate(157.7,547.7) scale(1,1.125)" font-size="34.5" text-anchor="middle">-10</text>
<text transform="translate(230.3,547.7) scale(1,1.125)" font-size="34.5" text-anchor="middle">-5</text>
<text transform="translate(303.5,547.7) scale(1,1.125)" font-size="34.5" text-anchor="middle">0</text>
<text transform="translate(376.1,547.7) scale(1,1.125)" font-size="34.5" text-anchor="middle">5</text>
<text transform="translate(448.7,547.7) scale(1,1.125)" font-size="34.5" text-anchor="middle">10</text>
<text transform="translate(521.2,547.7) scale(1,1.125)" font-size="34.5" text-anchor="middle">15</text>
<text transform="translate(593.8,547.7) scale(1,1.125)" font-size="34.5" text-anchor="middle">20</text>
<text transform="translate(666.4,547.7) scale(1,1.125)" font-size="34.5" text-anchor="middle">25</text>
<text transform="translate(410.7,601.7) scale(1,1.067)" font-size="38.1" text-anchor="middle">Position (nm)</text>
<text transform="translate(29.7,251.8) rotate(-90)" font-size="41" text-anchor="middle">Energy (eV)</text>
<text transform="translate(139.3,445.9) scale(1,1.08)" font-size="28.8">at 10 K</text>
<text transform="translate(139.3,483.4) scale(1,1.08)" font-size="28.8">135 mV/period</text>
</g>
<g style="font-family:'Liberation Sans',sans-serif" font-size="23.6">
<text transform="translate(220.0,99.6) scale(1,1.14)" fill="#00ff00">1</text>
<text transform="translate(276.7,178.0) scale(1,1.14)" fill="#00ffff">2</text>
<text transform="translate(342.4,167.2) scale(1,1.14)" fill="#0000ff">3</text>
<text transform="translate(375.6,246.1) scale(1,1.14)" fill="#ff00ff">4</text>
<text transform="translate(131.6,138.6) scale(1,1.14)" fill="#ff00ff">4"</text>
<text transform="translate(461.8,259.6) scale(1,1.14)" fill="#00ff00">1'</text>
</g>
</svg></body></html>
